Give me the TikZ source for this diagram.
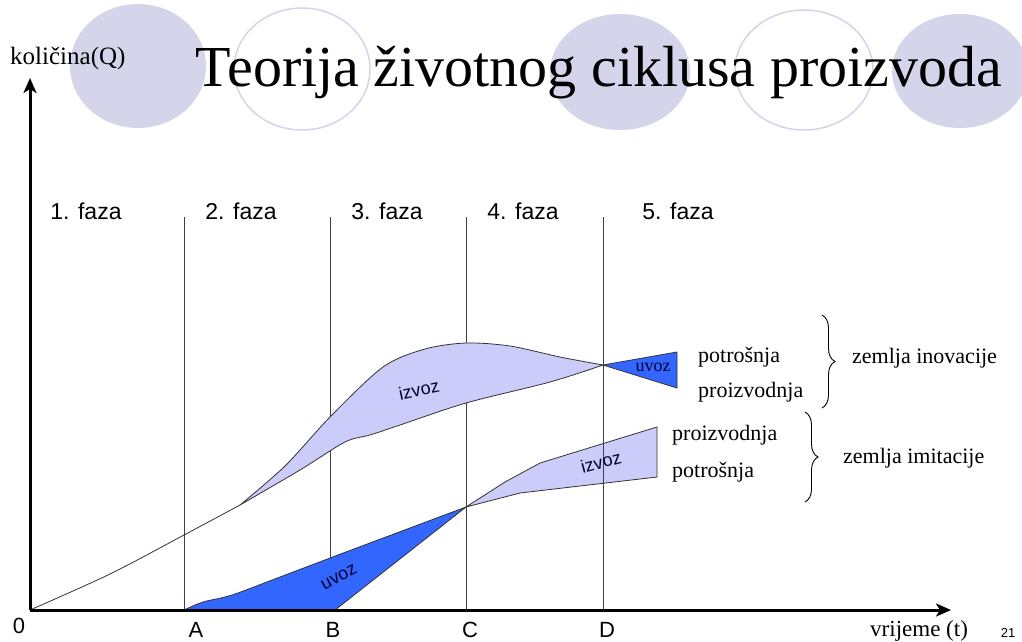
\documentclass[tikz,border=0pt]{standalone}
\usepackage{fontspec}
\setmainfont{Liberation Serif}
\setsansfont{Liberation Sans}
\usetikzlibrary{arrows.meta,decorations.pathreplacing}

\definecolor{balon}{RGB}{212,212,234}
\definecolor{izvozboja}{RGB}{204,204,250}
\definecolor{uvozboja}{RGB}{51,102,255}

\begin{document}
\begin{tikzpicture}[x=1pt,y=-1pt,inner sep=0pt,
        faza/.style={font=\sffamily\fontsize{23}{23}\selectfont,anchor=base},
        slovo/.style={font=\sffamily\fontsize{22}{22}\selectfont,anchor=base},
        rijec/.style={font=\fontsize{22}{22}\selectfont,anchor=base west},
        oznaka/.style={font=\sffamily\fontsize{18}{18}\selectfont,text=black!80!blue},
        puni/.style={fill=balon},
        prsten/.style={draw=balon,line width=1.5pt},
        granica/.style={draw=black!75,line width=0.8pt},
        oblik/.style={draw=black!80,line width=0.8pt},
        zagrada/.style={decorate,decoration={brace,amplitude=13pt},line width=0.9pt},
        os/.style={line width=3pt,-{Stealth[length=15pt,width=13pt,inset=4pt]}}]
    \useasboundingbox (0,0) rectangle (1022,641);
    \clip (0,0) rectangle (1022,641);
    \fill[puni] (138,66) ellipse [x radius=68,y radius=62];
    \draw[prsten] (302,69) ellipse [x radius=68,y radius=61];
    \fill[puni] (620,72) ellipse [x radius=70,y radius=58];
    \draw[prsten] (804,70) ellipse [x radius=69,y radius=60];
    \fill[puni] (960,71) ellipse [x radius=68,y radius=57];
    \node[font=\fontsize{58}{58}\selectfont,anchor=base] (naslov) at (599,86) {Teorija životnog ciklusa proizvoda};
    \node[font=\fontsize{25}{25}\selectfont,anchor=base west] (kolicina) at (10,64) {količina(Q)};

    \coordinate (O) at (30,610);
    \coordinate (vrh) at (0,217);
    \coordinate (tA) at (184,610);
    \coordinate (tB) at (330,610);
    \coordinate (tC) at (466,610);
    \coordinate (tD) at (603,610);
    \coordinate (pC) at (466,507);
    \coordinate (pD) at (603,365);

    \filldraw[oblik,fill=izvozboja] (pC) -- (505,482) -- (540,463) -- (657,427) -- (657,477) -- (520,493) -- cycle;
    \foreach \t in {tA,tB,tC,tD}
        \draw[granica] (\t) -- (\t |- vrh);

    \draw[oblik] plot[smooth] coordinates {(30,610) (110,574) (184,535) (240,505)};
    \filldraw[oblik,fill=izvozboja] plot[smooth] coordinates {(240,505) (285,466) (330,417) (383,367) (425,349) (466,343) (510,346) (560,357) (603,365)}
        -- plot[smooth] coordinates {(603,365) (550,382) (466,403) (400,425) (370,435) (345,442) (300,470) (240,505)} -- cycle;
    \filldraw[oblik,fill=uvozboja] (pD) -- (677,352) -- (677,388) -- cycle;
    \filldraw[oblik,fill=uvozboja] plot[smooth] coordinates {(184,610) (203,602) (232,595) (280,577) (330,558)}
        -- (pC) -- (335,610) -- cycle;

    \draw[os] (O) -- (30,78);
    \draw[os] (O) -- (951,610);

    \node[oznaka,rotate=12] (izvozI) at (419,390) {izvoz};
    \node[oznaka,rotate=15] (izvozM) at (601,462) {izvoz};
    \node[oznaka,rotate=28] (uvozM) at (339,577) {uvoz};
    \node[font=\fontsize{18}{18}\selectfont,text=black!80!blue] (uvozI) at (653,367) {uvoz};

    \node[faza] (f1) at (86,219) {1. faza};
    \node[faza] (f2) at (241,219) {2. faza};
    \node[faza] (f3) at (387,219) {3. faza};
    \node[faza] (f4) at (523,219) {4. faza};
    \node[faza] (f5) at (678,219) {5. faza};

    \node[slovo] (n0) at (19,633) {0};
    \node[slovo] (nA) at (196,637) {A};
    \node[slovo] (nB) at (333,637) {B};
    \node[slovo] (nC) at (470,637) {C};
    \node[slovo] (nD) at (607,637) {D};
    \node[font=\fontsize{23}{23}\selectfont,anchor=base west] (vrijeme) at (870,636) {vrijeme (t)};
    \node[font=\sffamily\fontsize{13}{13}\selectfont,anchor=base] (broj) at (1008,637) {21};

    \node[rijec] (potI) at (698,362) {potrošnja};
    \node[rijec] (proI) at (698,397) {proizvodnja};
    \node[rijec] (proM) at (672,440) {proizvodnja};
    \node[rijec] (potM) at (672,477) {potrošnja};
    \draw[zagrada] (822,315) -- (822,408);
    \draw[zagrada] (805,412) -- (805,502);
    \node[rijec] (inovacija) at (852,363) {zemlja inovacije};
    \node[rijec] (imitacija) at (843,463) {zemlja imitacije};
\end{tikzpicture}
\end{document}
